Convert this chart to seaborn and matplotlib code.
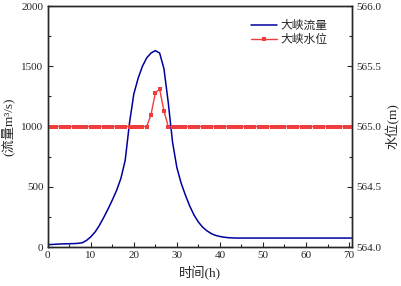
import numpy as np
import pandas as pd
import matplotlib
matplotlib.use('Agg')
import matplotlib.pyplot as plt
from matplotlib.ticker import MultipleLocator, FormatStrFormatter
import seaborn as sns

# ── Data (hourly) ─────────────────────────────────────────────────────────────
hours = list(range(0, 72))
flow_head = [20, 22, 24, 26, 27, 28, 29, 31, 36, 55,
             85, 125, 180, 245, 315, 390, 470, 570, 720, 1030,
             1270, 1400, 1500, 1570, 1610, 1630, 1610, 1480, 1200, 870,
             660, 530, 430, 340, 265, 208, 165, 135, 112, 97,
             88, 82, 78, 76]
flow = flow_head + [75] * (len(hours) - len(flow_head))
level = [565.0] * 24 + [565.10, 565.28, 565.31, 565.13] + [565.0] * (len(hours) - 28)

flow_label = '大峡流量'
level_label = '大峡水位'

df = pd.DataFrame({'t': hours, 'flow': flow, 'level': level})

# ── Style ─────────────────────────────────────────────────────────────────────
sns.set_style('ticks')
plt.rcParams['font.family'] = ['Liberation Serif', 'Noto Sans CJK SC']
plt.rcParams['xtick.direction'] = 'in'
plt.rcParams['ytick.direction'] = 'in'
plt.rcParams['axes.linewidth'] = 1.0

fig = plt.figure(figsize=(4.01, 2.86), dpi=100)
ax = fig.add_axes([0.119, 0.136, 0.760, 0.843])
ax2 = ax.twinx()

sns.lineplot(data=df, x='t', y='flow', ax=ax, color='#00009c', lw=1.1,
             label=flow_label, legend=False)
sns.lineplot(data=df, x='t', y='level', ax=ax2, color='#f03c3c', lw=1.0,
             marker='s', markersize=2.2, markeredgewidth=0, label=level_label,
             legend=False)

ax.set_xlim(0, 70.8)
ax.set_ylim(0, 2000)
ax2.set_ylim(564.0, 566.0)

ax.xaxis.set_major_locator(MultipleLocator(10))
ax.xaxis.set_minor_locator(MultipleLocator(5))
ax.yaxis.set_major_locator(MultipleLocator(500))
ax.yaxis.set_minor_locator(MultipleLocator(250))
ax2.yaxis.set_major_locator(MultipleLocator(0.5))
ax2.yaxis.set_minor_locator(MultipleLocator(0.25))
ax2.yaxis.set_major_formatter(FormatStrFormatter('%.1f'))

for a in (ax, ax2):
    a.tick_params(which='major', length=3.5, width=0.8, labelsize=8, pad=3)
    a.tick_params(which='minor', length=2, width=0.8)
ax.tick_params(axis='y', which='both', right=False)

ax.set_xlabel('时间(h)', fontsize=9.5, labelpad=4)
ax.set_ylabel('(流量m³/s)', fontsize=9.5, labelpad=5)
ax2.set_ylabel('水位(m)', fontsize=9.5, labelpad=3)

h1, l1 = ax.get_legend_handles_labels()
h2, l2 = ax2.get_legend_handles_labels()
ax.legend(h1 + h2, l1 + l2, loc='upper right', bbox_to_anchor=(0.94, 0.97),
          frameon=False, fontsize=8.5, handlelength=2.2, handletextpad=0.25,
          labelspacing=0.15, borderaxespad=0.2)

fig.savefig('out.png', dpi=100)
